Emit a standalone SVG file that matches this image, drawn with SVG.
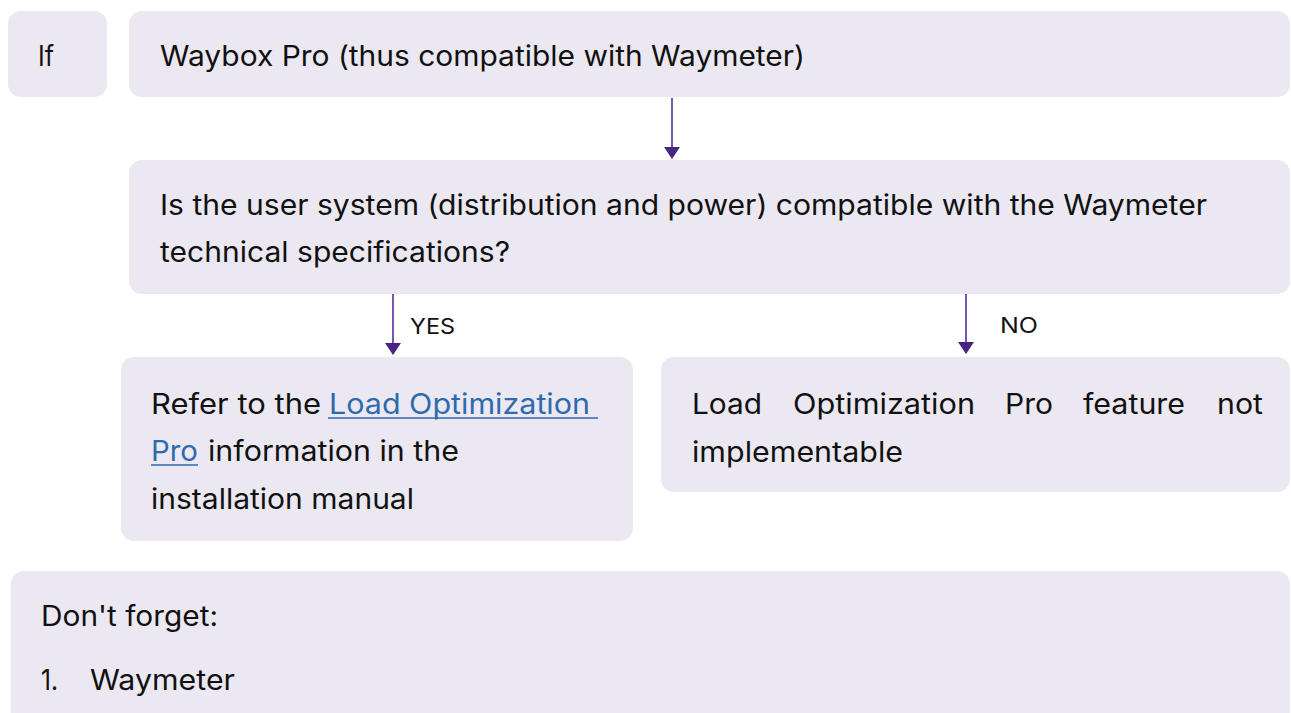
<svg xmlns="http://www.w3.org/2000/svg" width="1291" height="713" viewBox="0 0 1291 713">
<style>
.box{fill:#EBE8F2;}
.t{font-family:Inter,"Noto Sans","Liberation Sans",sans-serif;font-size:28px;fill:#111111;}
.lbl{font-family:Inter,"Noto Sans","Liberation Sans",sans-serif;font-size:21px;fill:#111111;}
.link{fill:#2E6AAE;}
.ul{stroke:#2E6AAE;stroke-width:1.6;}
.conn{stroke:#7656B0;stroke-width:2;fill:none;}
</style>
<defs>
<marker id="ah" viewBox="0 0 12 16" refX="11" refY="8" markerWidth="12" markerHeight="16" markerUnits="userSpaceOnUse" orient="auto">
<path d="M0,0 L12,8 L0,16 Z" fill="#4A2482"/>
</marker>
</defs>
<rect width="1291" height="713" fill="#FFFFFF"/>
<g id="node-if">
<rect class="box" x="8" y="11" width="99" height="86" rx="13"/>
<text class="t" x="38" y="66" textLength="16" lengthAdjust="spacingAndGlyphs">If</text>
</g>
<g id="node-waybox">
<rect class="box" x="129" y="11" width="1161" height="86" rx="13"/>
<text class="t" x="160" y="66" textLength="645" lengthAdjust="spacingAndGlyphs">Waybox Pro (thus compatible with Waymeter)</text>
</g>
<g id="node-question">
<rect class="box" x="129" y="160" width="1161" height="134" rx="13"/>
<text class="t" x="160" y="215" textLength="1047" lengthAdjust="spacingAndGlyphs">Is the user system (distribution and power) compatible with the Waymeter</text>
<text class="t" x="160" y="262" textLength="350" lengthAdjust="spacingAndGlyphs">technical specifications?</text>
</g>
<g id="node-yes">
<rect class="box" x="121" y="357" width="512" height="184" rx="13"/>
<text class="t" x="151" y="414" textLength="170" lengthAdjust="spacingAndGlyphs">Refer to the</text>
<text class="t link" x="329" y="414" textLength="261" lengthAdjust="spacingAndGlyphs">Load Optimization</text>
<line class="ul" x1="328" y1="418" x2="598" y2="418"/>
<text class="t link" x="151" y="461" textLength="47" lengthAdjust="spacingAndGlyphs">Pro</text>
<line class="ul" x1="151" y1="465" x2="198" y2="465"/>
<text class="t" x="208" y="461" textLength="251" lengthAdjust="spacingAndGlyphs">information in the</text>
<text class="t" x="151" y="509" textLength="263" lengthAdjust="spacingAndGlyphs">installation manual</text>
</g>
<g id="node-no">
<rect class="box" x="661" y="357" width="629" height="135" rx="13"/>
<text class="t" x="692" y="414" textLength="70" lengthAdjust="spacingAndGlyphs">Load</text>
<text class="t" x="793" y="414" textLength="182" lengthAdjust="spacingAndGlyphs">Optimization</text>
<text class="t" x="1005" y="414" textLength="48" lengthAdjust="spacingAndGlyphs">Pro</text>
<text class="t" x="1083" y="414" textLength="102" lengthAdjust="spacingAndGlyphs">feature</text>
<text class="t" x="1217" y="414" textLength="46" lengthAdjust="spacingAndGlyphs">not</text>
<text class="t" x="692" y="462" textLength="211" lengthAdjust="spacingAndGlyphs">implementable</text>
</g>
<g id="node-reminder">
<rect class="box" x="11" y="571" width="1279" height="160" rx="13"/>
<text class="t" x="41" y="626" textLength="177" lengthAdjust="spacingAndGlyphs">Don't forget:</text>
<text class="t" x="41" y="690" textLength="17" lengthAdjust="spacingAndGlyphs">1.</text>
<text class="t" x="90" y="690" textLength="145" lengthAdjust="spacingAndGlyphs">Waymeter</text>
</g>
<g id="connectors">
<line class="conn" x1="672" y1="98" x2="672" y2="158" marker-end="url(#ah)"/>
<line class="conn" x1="393" y1="294" x2="393" y2="354" marker-end="url(#ah)"/>
<line class="conn" x1="966" y1="294" x2="966" y2="353" marker-end="url(#ah)"/>
<text class="lbl" x="410" y="334" textLength="45" lengthAdjust="spacingAndGlyphs">YES</text>
<text class="lbl" x="1000" y="333" textLength="38" lengthAdjust="spacingAndGlyphs">NO</text>
</g>
</svg>
